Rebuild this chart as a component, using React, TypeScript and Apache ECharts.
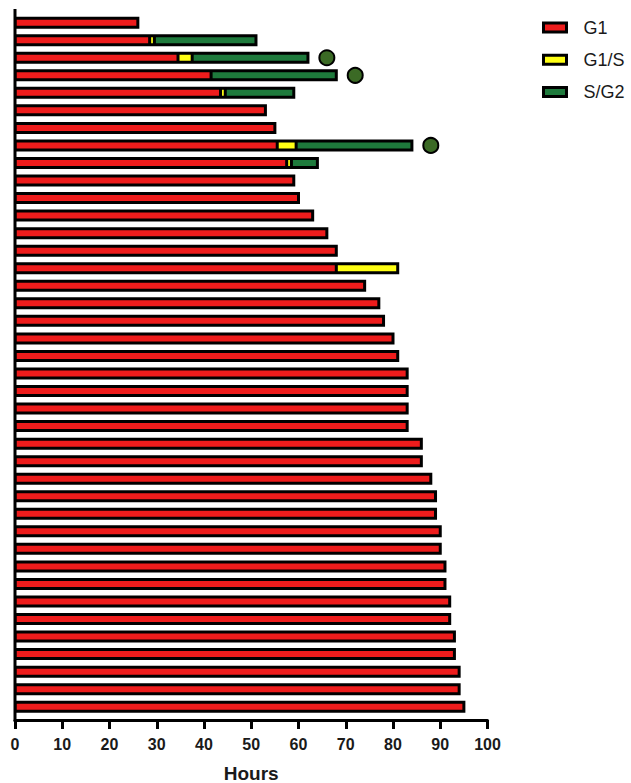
import { useEffect, useRef } from 'react';
import * as echarts from 'echarts';

// One row per tracked cell, top to bottom.
const cellIds = [
  'c01', 'c02', 'c03', 'c04', 'c05', 'c06', 'c07', 'c08', 'c09', 'c10',
  'c11', 'c12', 'c13', 'c14', 'c15', 'c16', 'c17', 'c18', 'c19', 'c20',
  'c21', 'c22', 'c23', 'c24', 'c25', 'c26', 'c27', 'c28', 'c29', 'c30',
  'c31', 'c32', 'c33', 'c34', 'c35', 'c36', 'c37', 'c38', 'c39', 'c40',
];

// Hours spent in each phase (null = phase not reached).
const g1Hours = [
  26, 28.5, 34.5, 41.5, 43.5, 53, 55, 55.5, 57.5, 59,
  60, 63, 66, 68, 68, 74, 77, 78, 80, 81,
  83, 83, 83, 83, 86, 86, 88, 89, 89, 90,
  90, 91, 91, 92, 92, 93, 93, 94, 94, 95,
];
const g1sHours = [
  null, 1, 3, null, 1, null, null, 4, 1, null,
  null, null, null, null, 13, null, null, null, null, null,
  null, null, null, null, null, null, null, null, null, null,
  null, null, null, null, null, null, null, null, null, null,
];
const sg2Hours = [
  null, 21.5, 24.5, 26.5, 14.5, null, null, 24.5, 5.5, null,
  null, null, null, null, null, null, null, null, null, null,
  null, null, null, null, null, null, null, null, null, null,
  null, null, null, null, null, null, null, null, null, null,
];

// Cells that divided, and the hour of division.
const divisionCells = ['c03', 'c04', 'c08'];
const divisionHours = [66, 72, 88];

const seriesNames = ['G1', 'G1/S', 'S/G2'];
const hourMin = 0;
const hourMax = 100;
const hourStep = 10;

const FONT = '"Liberation Sans", Arial, Helvetica, sans-serif';
const INK = '#1a1a1a';

export default function App() {
  const ref = useRef<HTMLDivElement>(null);

  useEffect(() => {
    if (!ref.current) return;
    const chart = echarts.init(ref.current, undefined, { renderer: 'svg' });

    // Whole-cycle length per cell, used for the black frame behind each bar.
    const totals = cellIds.map(
      (_, i) => (g1Hours[i] ?? 0) + (g1sHours[i] ?? 0) + (sg2Hours[i] ?? 0)
    );

    const segmentStyle = (color: string) => ({
      color,
      borderColor: '#000',
      borderWidth: 1.5,
    });

    chart.setOption({
      animation: false,
      backgroundColor: '#fff',
      grid: {
        left: 15,
        right: 143.5,
        top: 13.9,
        bottom: 67.5,
        containLabel: false,
        outerBoundsMode: 'none',
      },
      legend: {
        data: seriesNames,
        orient: 'vertical',
        left: 537,
        top: 13.5,
        icon: 'rect',
        itemWidth: 23,
        itemHeight: 9,
        itemGap: 14.3,
        selectedMode: false,
        itemStyle: { borderColor: '#000', borderWidth: 3 },
        textStyle: {
          fontFamily: FONT,
          fontSize: 18,
          color: INK,
          padding: [0, 0, 0, 12],
        },
      },
      xAxis: {
        type: 'value',
        min: hourMin,
        max: hourMax,
        interval: hourStep,
        offset: 4.5,
        name: 'Hours',
        nameLocation: 'middle',
        nameGap: 44,
        nameTextStyle: { fontFamily: FONT, fontSize: 19, fontWeight: 'bold', color: INK },
        axisLine: { show: true, lineStyle: { color: '#000', width: 3 } },
        axisTick: { show: true, length: 9, lineStyle: { color: '#000', width: 3 } },
        axisLabel: { fontFamily: FONT, fontSize: 16, fontWeight: 'bold', color: INK, margin: 16 },
        splitLine: { show: false },
      },
      yAxis: {
        type: 'category',
        data: cellIds,
        inverse: true,
        axisLine: { show: false },
        axisTick: { show: false },
        axisLabel: { show: false },
        splitLine: { show: false },
      },
      graphic: [
        {
          // Left axis line, running from above the first row down to the hour axis.
          type: 'line',
          z: 100,
          shape: { x1: 15, y1: 9, x2: 15, y2: 721.5 },
          style: { stroke: '#000', lineWidth: 3 },
        },
      ],
      series: [
        {
          // Black frame around each cell's full bar.
          name: 'frame',
          type: 'custom',
          silent: true,
          encode: { x: 0, y: 1 },
          data: totals.map((t, i) => [t, cellIds[i]]),
          renderItem: (_params: any, api: any) => {
            const row = api.value(1);
            const start = api.coord([0, row]);
            const end = api.coord([api.value(0), row]);
            return {
              type: 'rect',
              shape: {
                x: start[0],
                y: start[1] - 6,
                width: end[0] - start[0] + 1.5,
                height: 12,
              },
              style: { fill: '#000' },
            };
          },
        },
        {
          name: 'G1',
          type: 'bar',
          stack: 'phase',
          barWidth: 9,
          data: g1Hours,
          itemStyle: segmentStyle('#ee1c1c'),
          silent: true,
        },
        {
          name: 'G1/S',
          type: 'bar',
          stack: 'phase',
          barWidth: 9,
          data: g1sHours,
          itemStyle: segmentStyle('#ffff14'),
          silent: true,
        },
        {
          name: 'S/G2',
          type: 'bar',
          stack: 'phase',
          barWidth: 9,
          data: sg2Hours,
          itemStyle: segmentStyle('#1e7a3c'),
          silent: true,
        },
        {
          name: 'Division',
          type: 'scatter',
          symbol: 'circle',
          symbolSize: 15,
          data: divisionHours.map((h, i) => [h, divisionCells[i]]),
          itemStyle: { color: '#3b6a25', borderColor: '#000', borderWidth: 2, opacity: 1 },
          silent: true,
          z: 5,
        },
      ],
    });

    return () => chart.dispose();
  }, []);

  return (
    <div
      ref={ref}
      style={{ position: 'absolute', left: 0, top: 0, width: 631, height: 783 }}
    />
  );
}
